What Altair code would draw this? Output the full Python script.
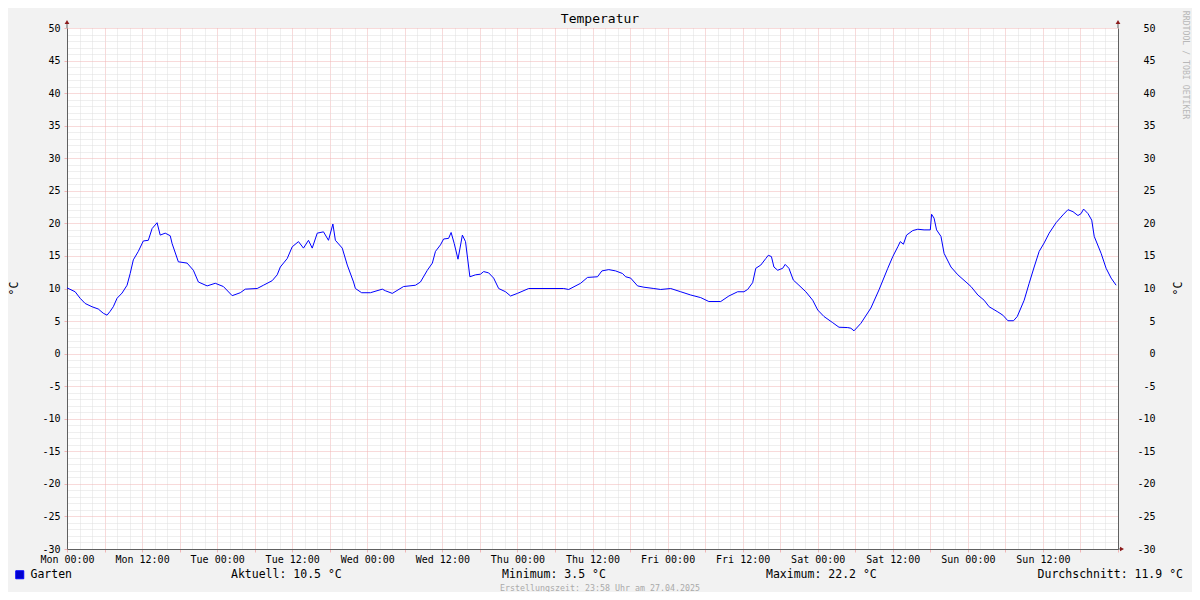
import json
import altair as alt
import pandas as pd

# ---------------- data ----------------
SERIES = "Garten"
HOURS = [0.0, 1.3, 2.1, 2.9, 4.0, 5.0, 5.8, 6.4, 6.9, 7.4,
         8.0, 8.8, 9.6, 10.1, 10.6, 11.4, 12.2, 13.0, 13.6, 14.4,
         14.9, 15.7, 16.5, 16.8, 17.8, 19.2, 20.2, 21.0, 22.4, 23.7,
         25.0, 26.4, 27.7, 28.5, 30.4, 31.4, 32.8, 33.6, 34.1, 35.2,
         36.0, 37.0, 37.8, 38.6, 39.2, 40.0, 41.0, 41.8, 42.5, 42.9,
         44.0, 44.8, 45.8, 46.1, 47.1, 48.5, 50.4, 50.9, 52.0, 53.8,
         55.7, 56.5, 57.6, 58.4, 58.9, 59.7, 60.2, 61.0, 61.4, 61.9,
         62.5, 63.2, 63.7, 64.4, 65.3, 66.1, 66.6, 67.4, 68.2, 69.0,
         70.1, 70.9, 72.0, 73.8, 79.4, 80.2, 82.1, 83.2, 84.8, 85.5,
         86.6, 87.7, 88.8, 89.3, 90.1, 91.2, 92.2, 93.8, 94.9, 96.5,
         98.1, 99.7, 101.3, 102.6, 104.5, 105.8, 107.2, 108.2, 108.8, 109.6,
         110.1, 110.9, 111.7, 112.1, 112.6, 113.0, 113.6, 114.4, 114.8, 115.4,
         116.1, 117.0, 118.1, 119.2, 120.0, 121.0, 122.4, 123.4, 124.8, 125.3,
         125.8, 126.9, 128.5, 129.8, 131.2, 132.0, 132.8, 133.2, 133.7, 134.2,
         135.2, 136.0, 137.0, 138.0, 138.2, 138.6, 139.0, 139.7, 140.2, 141.3,
         142.4, 143.7, 144.5, 145.6, 146.6, 147.4, 148.8, 149.6, 150.4, 151.3,
         151.9, 153.0, 153.8, 154.6, 155.4, 156.2, 157.0, 158.1, 159.2, 160.0,
         160.8, 161.6, 162.1, 162.5, 163.2, 163.8, 164.2, 165.3, 166.1, 166.9,
         167.7]
TEMPS = [10.1, 9.5, 8.5, 7.7, 7.2, 6.85, 6.2, 5.9, 6.5, 7.2,
         8.5, 9.3, 10.5, 12.3, 14.4, 15.7, 17.3, 17.4, 19.2, 20.1,
         18.2, 18.5, 18.1, 16.9, 14.1, 13.9, 12.8, 11.0, 10.4, 10.8,
         10.3, 8.9, 9.35, 9.9, 10.0, 10.5, 11.2, 12.1, 13.3, 14.6,
         16.4, 17.2, 16.2, 17.4, 16.2, 18.5, 18.7, 17.4, 19.9, 17.4,
         16.2, 13.6, 11.0, 10.0, 9.35, 9.35, 9.9, 9.65, 9.25, 10.3,
         10.5, 11.0, 12.8, 13.9, 15.7, 16.7, 17.6, 17.7, 18.6, 16.9,
         14.5, 18.2, 17.2, 11.8, 12.1, 12.2, 12.6, 12.4, 11.6, 10.0,
         9.5, 8.85, 9.25, 10.0, 10.0, 9.85, 10.8, 11.7, 11.8, 12.7,
         12.9, 12.7, 12.3, 11.8, 11.6, 10.4, 10.2, 10.0, 9.85, 10.0,
         9.5, 9.0, 8.6, 8.0, 8.0, 8.85, 9.5, 9.5, 9.85, 10.9,
         13.1, 13.6, 14.6, 15.1, 14.9, 13.3, 12.8, 13.1, 13.7, 13.1,
         11.3, 10.5, 9.5, 8.2, 6.7, 5.7, 4.75, 4.05, 4.0, 3.9,
         3.5, 4.65, 7.0, 9.8, 13.1, 14.9, 16.4, 17.2, 16.8, 18.2,
         18.9, 19.1, 19.0, 19.0, 21.4, 20.8, 19.0, 18.0, 15.4, 13.3,
         12.1, 11.0, 10.3, 9.0, 8.2, 7.2, 6.4, 5.9, 5.05, 5.05,
         5.7, 8.2, 10.8, 13.3, 15.7, 17.0, 18.5, 20.1, 21.3, 22.1,
         21.8, 21.2, 21.5, 22.2, 21.5, 20.5, 18.0, 15.4, 13.1, 11.6,
         10.5]
DAYS = ["Mon", "Tue", "Wed", "Thu", "Fri", "Sat", "Sun"]
STATS = ["Aktuell: 10.5 °C", "Minimum: 3.5 °C", "Maximum: 22.2 °C", "Durchschnitt: 11.9 °C"]
TITLE = "Temperatur"
UNIT = "°C"
FOOTER = "Erstellungszeit: 23:58 Uhr am 27.04.2025"
WATERMARK = "RRDTOOL / TOBI OETIKER"

df = pd.DataFrame({"h": HOURS, "T": TEMPS, "series": [SERIES] * len(HOURS)})

# ---------------- style ----------------
FONT = "DejaVu Sans Mono"
W, H = 1051, 521
MAJOR = "#f1b4b4"
MINOR = "#dedede"
AXIS = "#606060"
ARROW = "#8b1a1a"

x_label_expr = (
    "datum.value % 12 === 0 && datum.value < 168 ? "
    + json.dumps(DAYS)
    + "[floor(datum.value / 24)] + (datum.value % 24 === 0 ? ' 00:00' : ' 12:00') : ''"
)
y_label_expr = "datum.value % 5 === 0 ? '' + datum.value : ''"

x_scale = alt.Scale(domain=[0, 168], nice=False, zero=False)
y_scale = alt.Scale(domain=[-30, 50], nice=False, zero=False)

x_axis = alt.Axis(
    values=list(range(0, 169, 2)), grid=True,
    gridColor={"condition": {"test": "datum.value % 6 === 0", "value": MAJOR}, "value": MINOR},
    gridDash=[1, 1], gridWidth=1,
    labelExpr=x_label_expr, labelOverlap=False, labelFont=FONT, labelFontSize=10,
    labelColor="black", labelPadding=2, labelFlush=False,
    tickSize=3,
    tickColor={"condition": {"test": "datum.value % 6 === 0", "value": MAJOR}, "value": "#00000000"},
    domainColor=AXIS, title=None,
)
y_axis_left = alt.Axis(
    values=list(range(-30, 51)), grid=True,
    gridColor={"condition": {"test": "datum.value % 5 === 0", "value": MAJOR}, "value": MINOR},
    gridDash=[1, 1], gridWidth=1,
    labelExpr=y_label_expr, labelOverlap=False, labelFont=FONT, labelFontSize=10,
    labelColor="black", labelPadding=4, labelFlush=False,
    tickSize=3,
    tickColor={"condition": {"test": "datum.value % 5 === 0", "value": MAJOR}, "value": "#00000000"},
    domainColor=AXIS,
    title=UNIT, titleFont=FONT, titleFontSize=11.5, titleFontWeight="normal", titleColor="black",
    titleAngle=270, titleX=-53, titleY=260, titleAlign="center", titleBaseline="middle",
)
y_axis_right = alt.Axis(
    orient="right", values=list(range(-30, 51, 5)), grid=False,
    labelExpr=y_label_expr, labelOverlap=False, labelFont=FONT, labelFontSize=10,
    labelColor="black", labelPadding=37, labelAlign="right", labelFlush=False,
    tickSize=0, domainColor=AXIS,
    title=UNIT, titleFont=FONT, titleFontSize=11.5, titleFontWeight="normal", titleColor="black",
    titleAngle=270, titleX=60, titleY=260, titleAlign="center", titleBaseline="middle",
)

line = alt.Chart(df).mark_line(strokeWidth=1, interpolate="linear").encode(
    x=alt.X("h:Q", scale=x_scale, axis=x_axis),
    y=alt.Y("T:Q", scale=y_scale, axis=y_axis_left),
    color=alt.Color(
        "series:N",
        scale=alt.Scale(range=["#0000ff"]),
        legend=alt.Legend(
            orient="none", legendX=-53, legendY=541, title=None, padding=0,
            symbolType="square", symbolSize=64, symbolFillColor="#0000cc",
            symbolStrokeColor="black", symbolStrokeWidth=1,
            labelFont=FONT, labelFontSize=11.5, labelColor="black", labelOffset=5,
        ),
    ),
)

right_axis = alt.Chart(df).mark_line(opacity=0).encode(
    x=alt.X("h:Q", scale=x_scale, axis=None),
    y=alt.Y("T:Q", scale=y_scale, axis=y_axis_right),
)

one = pd.DataFrame({"k": [0]})


def txt(label, x, y, size, color="black", align="left", angle=0):
    return alt.Chart(pd.DataFrame({"t": [label]})).mark_text(
        font=FONT, fontSize=size, color=color, align=align, baseline="middle", angle=angle
    ).encode(text="t:N", x=alt.value(x), y=alt.value(y))


def rule(x, y, x2, y2, color=AXIS):
    return alt.Chart(one).mark_rule(color=color, strokeWidth=1).encode(
        x=alt.value(x), y=alt.value(y), x2=alt.value(x2), y2=alt.value(y2)
    )


def arrow(shape, x, y):
    return alt.Chart(one).mark_point(shape=shape, filled=True, color=ARROW, size=22, opacity=1).encode(
        x=alt.value(x), y=alt.value(y)
    )


decor = [
    rule(0, -5, 0, 0), rule(W, -5, W, 0), rule(W, H, W + 4, H),
    arrow("triangle-up", 0, -6), arrow("triangle-up", W, -6), arrow("triangle-right", W + 4, H),
    txt(TITLE, 533, -9, 13, align="center"),
    txt(STATS[0], 164, 547, 11.5),
    txt(STATS[1], 435, 547, 11.5),
    txt(STATS[2], 699, 547, 11.5),
    txt(STATS[3], 1116, 547, 11.5, align="right"),
    txt(FOOTER, 533, 561, 8.3, color="#aaaaaa", align="center"),
    txt(WATERMARK, 1118, 37, 8.2, color="#b8b8b8", align="center", angle=90),
]

chart = alt.layer(line, right_axis, *decor).resolve_axis(y="independent", x="independent").properties(
    width=W, height=H,
    autosize=alt.AutoSizeParams(type="none"),
    padding={"left": 59, "top": 20, "right": 74, "bottom": 43},
    background="#f2f2f2",
).configure_view(fill="white", stroke=None)

chart.save("out.html", embed_options={"renderer": "svg", "actions": False})
